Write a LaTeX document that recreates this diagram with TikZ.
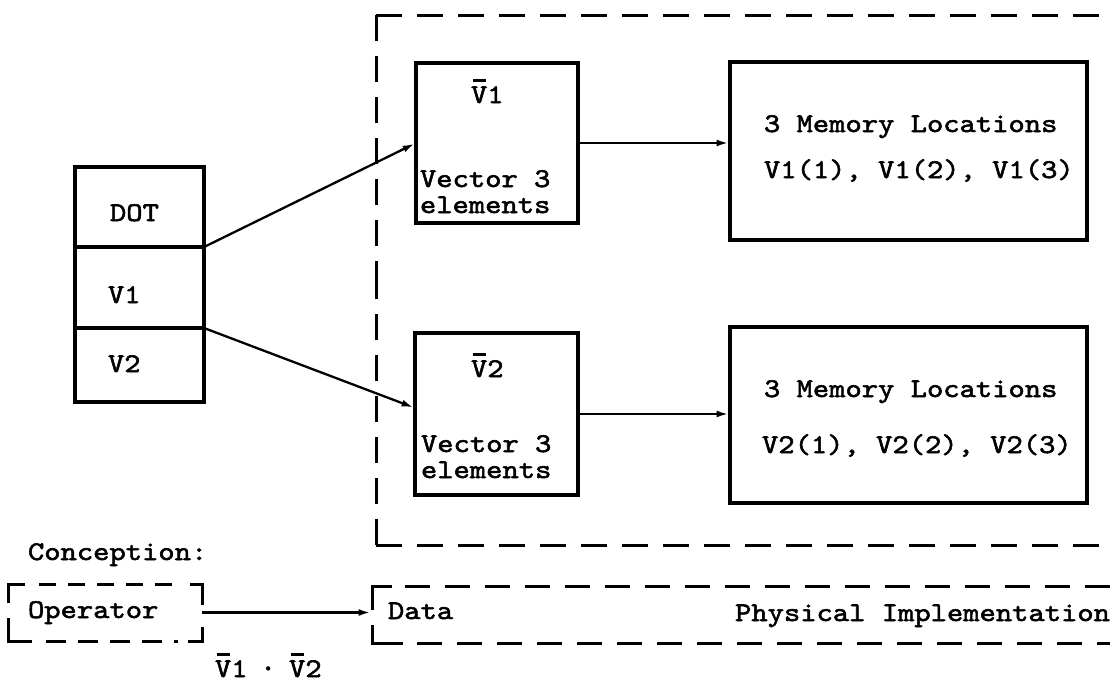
\documentclass[tikz,border=0pt]{standalone}
\usepackage{fontspec}
\newfontfamily\tw{lmmono10-regular}[Extension=.otf, FakeStretch=1.15, FakeBold=2]
\newfontfamily\symfont{DejaVu Sans}
\usetikzlibrary{arrows.meta,calc}
% V with a short typewriter-style bar over it
\newcommand{\Vbar}{\makebox[0pt][l]{\hspace{0.08em}\rule[0.78em]{0.46em}{0.1em}}V}
% heavy centred dot for the product sign
\newcommand{\proddot}{{\symfont\fontsize{15}{18}\selectfont\raisebox{2.5pt}{•}}}

\begin{document}
\begin{tikzpicture}[x=1pt,y=-1pt,
  every node/.style={inner sep=0pt, outer sep=0pt},
  txt/.style={font=\tw\fontsize{27}{32}\selectfont, anchor=base west},
  box/.style={draw, line width=4pt, rectangle, anchor=north west},
  area/.style={rectangle, anchor=north west},
  arr/.style={line width=2.3pt, -{Latex[length=12pt,width=7pt]}, shorten >=1.5pt},
  bigdash/.style={line width=3pt, dash pattern=on 26pt off 15pt},
  smalldash/.style={line width=3pt, dash pattern=on 17pt off 12pt},
  corner/.style={line width=3pt}]

\useasboundingbox[fill=white] (0,0) rectangle (1110,683);

% operator stack
\node[box, minimum width=129pt, minimum height=80pt] (dot)  at (75,167) {};
\node[box, minimum width=129pt, minimum height=81pt] (vone) at (75,247) {};
\node[box, minimum width=129pt, minimum height=74pt] (vtwo) at (75,328) {};
\node[txt] (dotL)  at (110,221) {DOT};
\node[txt] (voneL) at (108,303) {V1};
\node[txt] (vtwoL) at (108,372) {V2};

% physical implementation area
\node[area, minimum width=734pt, minimum height=530pt] (impl) at (376,15) {};
\draw[bigdash] (impl.north west) -- (impl.north east);
\draw[bigdash] (impl.north west) -- ($(impl.north west)!0.5!(impl.south west)$);
\draw[bigdash] (impl.south west) -- ($(impl.north west)!0.5!(impl.south west)$);
\draw[bigdash] (impl.south west) -- (impl.south east);

% vector descriptors
\node[box, minimum width=162pt, minimum height=160pt] (vecA) at (416,63) {};
\node[box, minimum width=163pt, minimum height=162pt] (vecB) at (415,333) {};
\node[txt] (vecAname) at (471,103) {\Vbar1};
\node[txt] (vecAa) at (420,187) {Vector 3};
\node[txt] (vecAb) at (420,213) {elements};
\node[txt] (vecBname) at (471,377) {\Vbar2};
\node[txt] (vecBa) at (421,452) {Vector 3};
\node[txt] (vecBb) at (421,478) {elements};

% memory blocks
\node[box, minimum width=357pt, minimum height=178pt] (memA) at (730,62) {};
\node[box, minimum width=357pt, minimum height=176pt] (memB) at (730,327) {};
\node[txt] (memAa) at (764,132) {3 Memory Locations};
\node[txt] (memAb) at (764,178) {V1(1), V1(2), V1(3)};
\node[txt] (memBa) at (764,397) {3 Memory Locations};
\node[txt] (memBb) at (762,453) {V2(1), V2(2), V2(3)};

% connectors
\draw[arr] (dot.south east) -- (vecA.west);
\draw[arr] (vone.south east) -- ([yshift=6pt]vecB.west);
\draw[arr] (vecA.east) -- (vecA.east -| memA.west);
\draw[arr] (vecB.east) -- (vecB.east -| memB.west);

% conception legend
\node[txt] (concL) at (28,560) {Conception:};

\node[area, minimum width=194pt, minimum height=57pt] (opbox) at (8,584) {};
\draw[corner] ($(opbox.north west)+(0,19)$) -- (opbox.north west) -- ($(opbox.north west)+(17,0)$);
\draw[corner] ($(opbox.north east)+(0,21)$) -- (opbox.north east) -- ($(opbox.north east)+(-12,0)$);
\draw[corner] ($(opbox.south west)+(0,-23)$) -- (opbox.south west) -- ($(opbox.south west)+(24,0)$);
\draw[corner] ($(opbox.south east)+(0,-14)$) -- (opbox.south east) -- ($(opbox.south east)+(-14,0)$);
\draw[smalldash] ($(opbox.north west)+(31,0)$) -- ($(opbox.north east)+(-22,0)$);
\draw[smalldash, dash pattern=on 20pt off 12pt] ($(opbox.south west)+(38,0)$) -- ($(opbox.south east)+(-24,0)$);
\node[txt] (opL) at (28,618) {Operator};

\node[area, minimum width=738pt, minimum height=57pt] (databox) at (372,586) {};
\draw[corner] ($(databox.north west)+(0,24)$) -- (databox.north west) -- ($(databox.north west)+(20,0)$);
\draw[corner] ($(databox.south west)+(0,-18)$) -- (databox.south west) -- ($(databox.south west)+(31,0)$);
\draw[bigdash, dash pattern=on 25pt off 15pt] ($(databox.north west)+(33,0)$) -- (databox.north east);
\draw[bigdash, dash pattern=on 25pt off 15pt] ($(databox.south west)+(45,0)$) -- (databox.south east);
\node[txt] (dataL) at (388,619) {Data};
\node[txt, anchor=base east] (physL) at (1110,621) {Physical Implementation};

\draw[arr] (opbox.east) -- (opbox.east -| databox.west);

\node[txt] (prodL) at (215,677) {\Vbar1 \proddot{} \Vbar2};
\end{tikzpicture}
\end{document}
